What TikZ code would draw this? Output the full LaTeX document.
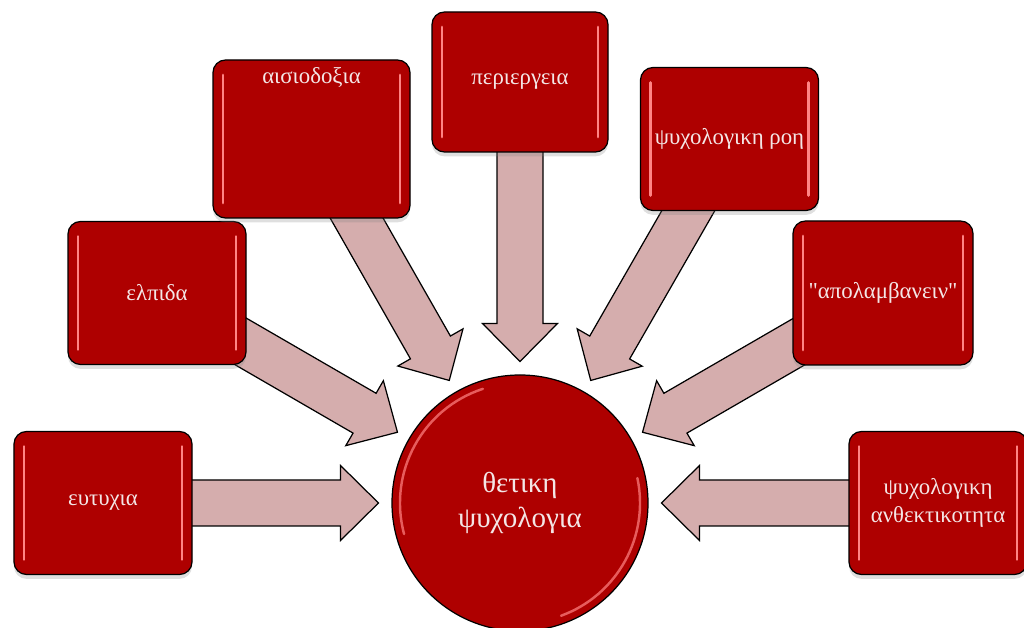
\documentclass[tikz,border=0pt]{standalone}
\usepackage{fontspec}
\setmainfont{Liberation Serif}
\usepackage{xcolor}
\usepackage{tikz}
\usetikzlibrary{positioning,calc,shadows,backgrounds}

\definecolor{cardred}{HTML}{AE0000}
\definecolor{arrowpink}{HTML}{D5ADAD}
\definecolor{cardtext}{HTML}{F4E6E6}
\definecolor{glint}{HTML}{FF8484}

% straight double quote, past the TeX mapping
\newcommand{\dquote}{\XeTeXglyph\XeTeXcharglyph"22\relax}

\tikzset{
  card/.style={rectangle, rounded corners=0.25cm, fill=cardred, draw=black, line width=0.7pt,
    minimum width=3.56cm, minimum height=2.86cm, text=cardtext, align=center,
    font=\fontsize{13}{15.5}\selectfont,
    drop shadow={shadow xshift=0pt, shadow yshift=-2.5pt, opacity=0.25},
    path picture={
      \draw[glint, line width=1.6pt, line cap=round]
        ([xshift=0.2cm, yshift=-0.3cm]path picture bounding box.north west) --
        ([xshift=0.2cm, yshift=0.3cm]path picture bounding box.south west);
      \draw[glint, line width=1.6pt, line cap=round]
        ([xshift=-0.2cm, yshift=-0.3cm]path picture bounding box.north east) --
        ([xshift=-0.2cm, yshift=0.3cm]path picture bounding box.south east);
    }},
  cardlabel/.style={text=cardtext, font=\fontsize{13}{15.5}\selectfont},
  hub/.style={circle, fill=cardred, draw=black, line width=0.7pt, minimum size=5.12cm,
    text=cardtext, align=center, font=\fontsize{16.5}{20}\selectfont,
    path picture={
      \draw[glint!70!cardred, line width=1.4pt, line cap=round]
        ($(path picture bounding box.center)+(195:2.4)$) arc (195:108:2.4);
      \draw[glint!70!cardred, line width=1.4pt, line cap=round]
        ($(path picture bounding box.center)+(12:2.4)$) arc (12:-70:2.4);
    }},
  arrowbody/.style={fill=arrowpink, draw=black, line width=0.7pt, line join=miter}
}

% block arrow from a node to a tip coordinate
\newcommand{\blockarrow}[2]{%
  \coordinate (#2-base) at ($(#2)!0.76cm!(#1)$);
  \draw[arrowbody] ($(#1)!0.46cm!90:(#2)$) -- ($(#2-base)!0.46cm!90:(#2)$)
    -- ($(#2-base)!0.75cm!90:(#2)$) -- (#2) -- ($(#2-base)!0.75cm!-90:(#2)$)
    -- ($(#2-base)!0.46cm!-90:(#2)$) -- ($(#1)!0.46cm!-90:(#2)$) -- cycle;}

\begin{document}
\begin{tikzpicture}
    \useasboundingbox (0,0) rectangle (20.48,12.56);

    % centre
    \node[hub] (thetiki) at (10.40,2.50) {θετικη\\ψυχολογια};

    % boxes
    \node[card] (eutychia) at (2.06,2.50) {ευτυχια};
    \node[card] (elpida) at (3.14,6.70) {ελπιδα};
    \node[card, minimum width=3.94cm, minimum height=3.16cm] (aisiodoxia) at (6.23,9.78) {};
    \node[cardlabel, below=0.3mm of aisiodoxia.north] (aisiodoxia-text) {αισιοδοξια};
    \node[card, minimum width=3.52cm, minimum height=2.80cm] (periergeia) at (10.40,10.92) {περιεργεια};
    \node[card] (roi) at (14.59,9.78) {ψυχολογικη ροη};
    \node[card, minimum width=3.60cm, minimum height=2.88cm] (apolamvanein) at (17.66,6.70) {\dquote απολαμβανειν\dquote};
    \node[card] (anthektikotita) at (18.76,2.50) {ψυχολογικη\\ανθεκτικοτητα};

    % arrow tips
    \coordinate (tip-eutychia) at ($(thetiki)+(180:2.83)$);
    \coordinate (tip-elpida) at ($(thetiki)+(150:2.83)$);
    \coordinate (tip-aisiodoxia) at ($(thetiki)+(120:2.83)$);
    \coordinate (tip-periergeia) at ($(thetiki)+(90:2.83)$);
    \coordinate (tip-roi) at ($(thetiki)+(60:2.83)$);
    \coordinate (tip-apolamvanein) at ($(thetiki)+(30:2.83)$);
    \coordinate (tip-anthektikotita) at ($(thetiki)+(0:2.83)$);

    \begin{scope}[on background layer]
        \blockarrow{eutychia}{tip-eutychia}
        \blockarrow{elpida}{tip-elpida}
        \blockarrow{aisiodoxia}{tip-aisiodoxia}
        \blockarrow{periergeia}{tip-periergeia}
        \blockarrow{roi}{tip-roi}
        \blockarrow{apolamvanein}{tip-apolamvanein}
        \blockarrow{anthektikotita}{tip-anthektikotita}
    \end{scope}
\end{tikzpicture}
\end{document}
